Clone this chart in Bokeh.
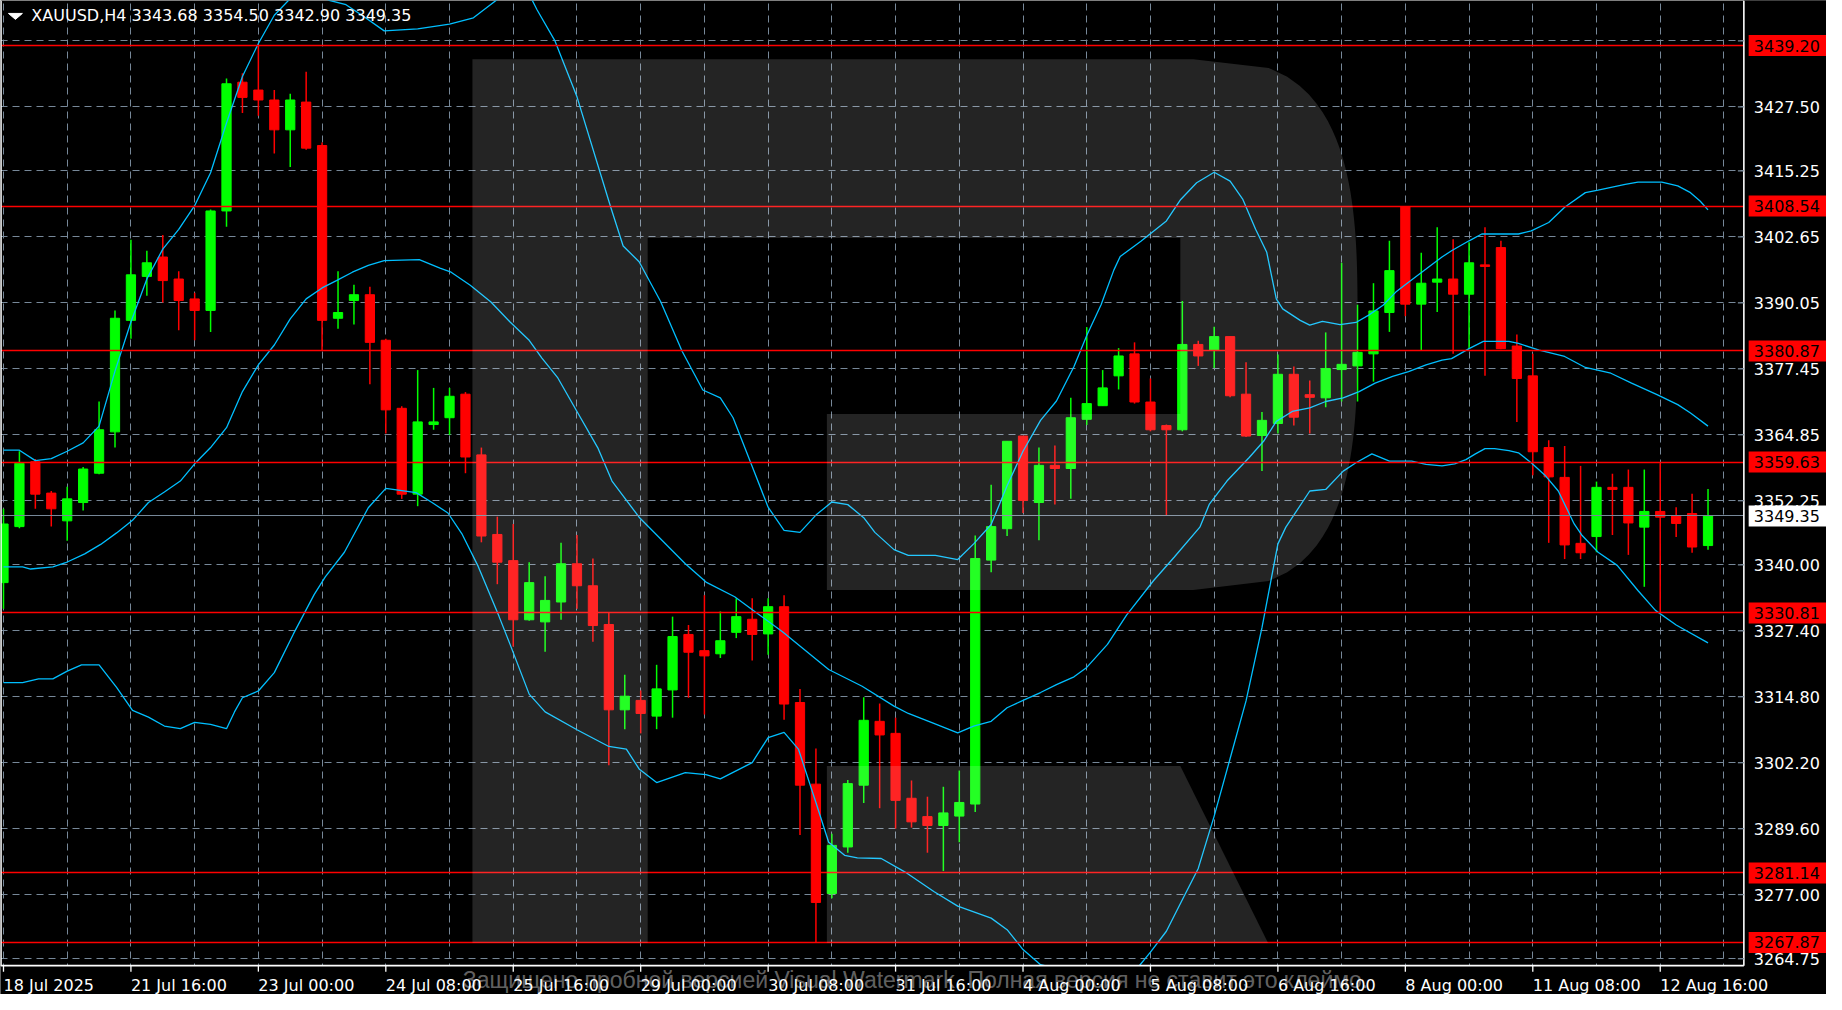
import numpy as np
from bokeh.plotting import figure
from bokeh.models import Range1d, FixedTicker, Grid, ColumnDataSource
from bokeh.core.properties import value
from bokeh.embed import file_html
from bokeh.resources import INLINE

# ------------------------------------------------------------------ data
symbol_title = "XAUUSD,H4  3343.68 3354.50 3342.90 3349.35"
watermark_text = "Защищено пробной версией Visual Watermark. Полная версия не ставит это клеймо."

x_tick_bars = [0, 8, 16, 24, 32, 40, 48, 56, 64, 72, 80, 88, 96, 104]
x_tick_labels = ["18 Jul 2025", "21 Jul 16:00", "23 Jul 00:00", "24 Jul 08:00", "25 Jul 16:00",
                 "29 Jul 00:00", "30 Jul 08:00", "31 Jul 16:00", "4 Aug 00:00", "5 Aug 08:00",
                 "6 Aug 16:00", "8 Aug 00:00", "11 Aug 08:00", "12 Aug 16:00"]

price_ticks = [3264.75, 3277.00, 3289.60, 3302.20, 3314.80, 3327.40, 3340.00, 3352.25,
               3364.85, 3377.45, 3390.05, 3402.65, 3415.25, 3427.50, 3440.10]
price_tick_labels = ["3264.75", "3277.00", "3289.60", "3302.20", "3314.80", "3327.40", "3340.00",
                     "3352.25", "3364.85", "3377.45", "3390.05", "3402.65", "3415.25", "3427.50", ""]

levels = [3439.20, 3408.54, 3380.87, 3359.63, 3330.81, 3281.14, 3267.87]
level_labels = ["3439.20", "3408.54", "3380.87", "3359.63", "3330.81", "3281.14", "3267.87"]
last_price = 3349.35
last_price_label = "3349.35"

opens = [3336.6, 3347.3, 3359.7, 3353.7, 3348.4, 3351.9, 3357.5, 3365.4, 3386.7, 3395.1,
         3398.8, 3394.6, 3390.8, 3388.6, 3407.6, 3432.2, 3430.7, 3428.8, 3423.1, 3428.4,
         3420.1, 3387.1, 3390.5, 3391.6, 3382.9, 3369.9, 3353.5, 3366.8, 3368.1, 3372.6,
         3361.0, 3345.8, 3340.8, 3329.5, 3329.1, 3332.9, 3340.2, 3336.0, 3328.6, 3312.3,
         3314.1, 3311.1, 3316.1, 3326.7, 3323.6, 3323.0, 3327.1, 3329.6, 3326.8, 3332.0,
         3313.7, 3298.1, 3277.2, 3286.1, 3297.9, 3310.1, 3307.8, 3295.4, 3291.9, 3290.2,
         3292.0, 3294.3, 3340.9, 3346.9, 3364.6, 3351.9, 3359.0, 3358.4, 3367.8, 3370.4,
         3376.1, 3380.3, 3371.1, 3366.6, 3365.8, 3382.1, 3381.0, 3383.6, 3372.6, 3364.7,
         3367.0, 3376.4, 3372.5, 3371.9, 3377.3, 3378.0, 3380.3, 3388.2, 3408.4, 3389.8,
         3394.0, 3394.6, 3391.7, 3397.3, 3400.6, 3381.8, 3376.1, 3362.4, 3356.7, 3344.1,
         3345.4, 3354.8, 3354.8, 3347.2, 3350.2, 3349.4, 3349.8, 3343.68]
highs = [3350.7, 3361.7, 3360.2, 3354.1, 3354.9, 3358.7, 3371.2, 3388.6, 3402.1, 3400.0,
         3403.0, 3396.1, 3392.0, 3407.9, 3432.9, 3433.9, 3439.2, 3430.7, 3430.0, 3434.2,
         3420.7, 3396.1, 3393.5, 3393.1, 3383.2, 3370.3, 3377.2, 3373.8, 3373.8, 3373.0,
         3362.4, 3349.2, 3347.8, 3340.5, 3337.8, 3344.2, 3345.7, 3341.2, 3330.9, 3319.0,
         3316.0, 3320.9, 3330.1, 3328.5, 3334.2, 3331.1, 3333.6, 3333.6, 3333.6, 3334.2,
         3316.3, 3304.9, 3288.6, 3298.9, 3314.7, 3313.5, 3310.8, 3298.8, 3295.7, 3297.6,
         3300.7, 3345.6, 3355.3, 3363.6, 3364.6, 3362.4, 3362.8, 3371.9, 3385.4, 3377.2,
         3381.4, 3382.5, 3375.6, 3366.8, 3390.4, 3382.8, 3385.5, 3383.6, 3378.7, 3369.2,
         3380.2, 3377.9, 3375.2, 3384.4, 3397.7, 3389.7, 3393.8, 3401.9, 3408.54, 3399.6,
         3404.5, 3402.2, 3401.6, 3404.5, 3401.9, 3384.0, 3380.3, 3363.8, 3362.7, 3358.9,
         3355.9, 3357.4, 3358.2, 3358.2, 3359.4, 3351.0, 3353.6, 3354.50]
lows = [3331.6, 3347.0, 3350.7, 3347.3, 3344.6, 3350.4, 3357.3, 3362.4, 3383.2, 3391.4,
        3390.1, 3384.8, 3382.9, 3384.5, 3404.6, 3426.3, 3425.8, 3418.6, 3416.0, 3419.3,
        3381.0, 3385.1, 3385.9, 3374.5, 3365.1, 3352.6, 3351.2, 3365.8, 3364.8, 3357.5,
        3344.3, 3336.3, 3324.4, 3329.3, 3323.4, 3329.5, 3331.6, 3325.3, 3301.7, 3308.6,
        3307.8, 3308.6, 3310.8, 3314.6, 3311.4, 3322.2, 3326.0, 3321.7, 3322.8, 3310.4,
        3288.4, 3267.87, 3276.3, 3285.0, 3294.5, 3293.5, 3289.6, 3289.8, 3285.0, 3281.5,
        3287.0, 3292.8, 3338.6, 3345.5, 3349.9, 3344.7, 3351.5, 3352.6, 3366.7, 3370.4,
        3373.5, 3370.8, 3365.5, 3349.4, 3365.5, 3378.0, 3377.6, 3372.0, 3364.4, 3357.9,
        3365.1, 3366.6, 3365.1, 3370.1, 3371.2, 3371.2, 3375.0, 3384.5, 3387.5, 3381.0,
        3388.3, 3380.3, 3381.2, 3376.1, 3381.2, 3367.3, 3357.1, 3344.2, 3341.1, 3341.1,
        3342.4, 3345.7, 3341.9, 3335.8, 3330.81, 3345.3, 3342.3, 3342.90]
closes = [3347.8, 3359.4, 3353.5, 3350.7, 3352.6, 3358.3, 3365.8, 3387.1, 3395.4, 3397.7,
          3394.3, 3390.5, 3388.6, 3407.6, 3431.9, 3429.3, 3428.8, 3423.1, 3428.8, 3419.6,
          3386.7, 3388.2, 3391.6, 3382.5, 3369.6, 3353.5, 3367.3, 3367.3, 3372.2, 3360.6,
          3345.5, 3340.5, 3329.5, 3336.6, 3333.2, 3340.2, 3336.0, 3328.4, 3312.3, 3314.9,
          3311.6, 3316.3, 3326.3, 3323.3, 3322.6, 3325.5, 3330.1, 3326.7, 3332.0, 3313.4,
          3297.9, 3275.5, 3286.4, 3298.2, 3310.3, 3307.5, 3295.0, 3290.9, 3290.2, 3292.6,
          3294.6, 3341.2, 3347.3, 3363.6, 3352.3, 3359.0, 3358.4, 3368.1, 3370.8, 3373.8,
          3379.9, 3371.1, 3365.8, 3365.8, 3382.1, 3379.9, 3383.6, 3372.3, 3364.6, 3367.6,
          3376.4, 3368.2, 3372.0, 3377.5, 3378.3, 3380.6, 3388.5, 3396.2, 3389.8, 3393.8,
          3394.6, 3391.7, 3397.7, 3397.0, 3381.3, 3375.6, 3361.6, 3356.8, 3343.8, 3342.3,
          3354.8, 3354.4, 3348.0, 3350.2, 3349.1, 3347.9, 3343.4, 3349.35]

# Bollinger bands (x = bar index)
upper_x = [0, 1, 2, 3, 4, 5, 6, 7, 8, 9, 10, 11, 12, 13, 14, 15, 16, 17, 18.2, 19.5, 20.5, 21.5, 22.5,
           23.9, 26, 28, 29.5, 31, 32, 33, 33.5, 34.6, 36, 38.1, 38.9, 39.9, 41.25, 42.6, 43.9, 45, 45.8,
           47, 48, 49, 50, 51, 52, 53, 54, 54.7, 55.9, 56.8, 58.5, 59.9, 60.9, 62, 63, 64, 65.1, 66.1,
           67.2, 68, 68.9, 69.7, 70.1, 71.4, 73, 73.9, 74.9, 76, 77, 77.8, 78.6, 79.3, 79.9, 80.3, 81.4,
           82, 82.8, 83.9, 84.9, 85.7, 86.6, 87.4, 88.2, 89.3, 90.3, 90.9, 92, 92.8, 95.1, 95.9, 97, 98,
           99.3, 100.1, 101.8, 102.6, 104.1, 105.1, 105.9, 106.5, 107]
upper_y = [3361.9, 3361.9, 3359.9, 3360.3, 3361.7, 3363.3, 3366.5, 3377.0, 3386.4, 3394.6, 3400.3,
           3404.1, 3408.6, 3414.9, 3424.4, 3433.3, 3439.6, 3445.0, 3448.8, 3449.0, 3447.8, 3447.0,
           3445.0, 3442.0, 3442.4, 3443.3, 3444.5, 3448.0, 3449.5, 3449.0, 3446.0, 3440.2, 3429.4,
           3408.5, 3400.9, 3397.9, 3390.3, 3380.8, 3373.4, 3371.9, 3368.1, 3358.8, 3351.0, 3346.6,
           3346.2, 3349.5, 3352.0, 3351.5, 3349.0, 3346.2, 3342.9, 3341.8, 3341.8, 3341.0, 3344.0,
           3347.7, 3355.1, 3361.7, 3367.6, 3371.3, 3377.9, 3383.8, 3389.7, 3396.3, 3398.9, 3401.8,
           3405.7, 3409.8, 3413.0, 3415.0, 3413.3, 3409.8, 3404.1, 3399.7, 3390.8, 3388.9, 3386.7,
           3385.8, 3386.5, 3385.9, 3386.3, 3387.7, 3389.6, 3392.1, 3394.0, 3396.5, 3398.8, 3400.0,
           3401.9, 3403.2, 3403.2, 3403.8, 3405.4, 3408.3, 3411.1, 3411.6, 3412.7, 3413.1, 3413.1,
           3412.4, 3411.1, 3409.5, 3407.8]
middle_x = [0, 1.2, 1.7, 3.1, 3.9, 5.1, 6.1, 7.1, 8.1, 9.1, 10.1, 11.1, 12, 13, 14, 15, 16, 17, 18, 19,
            20, 20.9, 21.9, 22.9, 23.9, 26.1, 27.4, 28.1, 29.3, 30.6, 31.8, 33, 33.8, 34.8, 36, 37.3,
            38.2, 39.9, 42.8, 44.1, 45.9, 47.2, 48.9, 51.8, 53.9, 55.9, 56.8, 58.4, 59.9, 60.9, 62, 63,
            64, 65.1, 66.1, 67.2, 68, 69.3, 70.5, 72.2, 73.5, 75.1, 75.7, 76.8, 78.2, 79.1, 79.9, 80.9,
            82, 83, 84.1, 85.1, 86.1, 87.2, 88.2, 89.3, 90.3, 90.9, 92, 92.9, 94.5, 95.1, 96.4, 98,
            99.3, 100.9, 102.2, 103.8, 105.1, 105.9, 107]
middle_y = [3339.6, 3339.6, 3339.2, 3339.6, 3340.4, 3342.1, 3343.9, 3346.1, 3348.5, 3351.9, 3353.9,
            3356.0, 3359.3, 3362.4, 3366.2, 3373.1, 3378.2, 3382.0, 3387.0, 3390.8, 3392.9, 3394.3,
            3395.9, 3397.2, 3398.1, 3398.3, 3396.7, 3395.9, 3393.4, 3390.2, 3386.4, 3382.9, 3379.5,
            3375.7, 3369.3, 3362.4, 3356.0, 3349.1, 3340.2, 3336.7, 3333.9, 3331.0, 3327.2, 3320.0,
            3316.8, 3313.0, 3311.6, 3309.7, 3307.9, 3309.2, 3310.1, 3312.7, 3314.1, 3315.6, 3317.1,
            3318.6, 3320.4, 3324.8, 3330.4, 3337.0, 3341.5, 3347.2, 3351.6, 3356.0, 3360.5, 3363.6,
            3367.4, 3369.3, 3370.0, 3371.2, 3371.9, 3373.1, 3374.7, 3376.0, 3376.9, 3378.2, 3379.1,
            3379.4, 3381.3, 3382.7, 3382.7, 3382.3, 3381.0, 3379.8, 3377.7, 3376.6, 3374.7, 3372.5,
            3370.6, 3369.0, 3366.5]
lower_x = [0, 1.2, 2.2, 3.1, 4, 4.9, 6, 7.1, 8.1, 9.1, 10.1, 11.1, 12, 13, 14, 14.5, 15, 16, 17, 18.2,
           19.5, 20.2, 21.4, 22.9, 24, 25.9, 26.9, 27.9, 28.8, 29.8, 31.1, 31.8, 33, 34, 36, 38, 39.1,
           39.9, 41, 42.8, 44.1, 45, 47, 48, 49, 49.9, 51, 51.8, 52.8, 53.6, 55.1, 56.6, 58.4, 59.9, 62,
           63, 64, 65.1, 66.1, 67.2, 68, 69.3, 70.5, 71.3, 72, 73, 74, 75, 76, 77, 78, 79, 80, 80.5, 82,
           83, 84.1, 84.9, 85.9, 87, 88.4, 89.3, 90.3, 91.1, 91.8, 92.4, 93, 93.6, 94.5, 95.1, 95.9,
           96.8, 97.6, 98.6, 99.1, 100.1, 101.3, 102.6, 103.7, 105, 107]
lower_y = [3317.5, 3317.5, 3318.2, 3318.2, 3319.7, 3320.9, 3320.9, 3316.6, 3312.2, 3310.9, 3309.2,
           3308.7, 3309.9, 3309.5, 3308.7, 3311.9, 3314.6, 3315.9, 3319.4, 3326.8, 3334.3, 3337.7,
           3342.4, 3350.9, 3354.6, 3353.8, 3351.9, 3349.9, 3345.8, 3339.7, 3330.2, 3324.8, 3315.3,
           3311.9, 3308.5, 3305.3, 3304.8, 3301.0, 3298.4, 3300.3, 3299.9, 3299.1, 3302.2, 3307.0,
           3308.0, 3304.8, 3294.6, 3287.0, 3284.5, 3284.0, 3283.9, 3281.3, 3277.6, 3274.8, 3272.5,
           3270.3, 3266.5, 3263.6, 3262.9, 3259.3, 3257.0, 3256.0, 3261.0, 3263.4, 3266.0, 3270.0,
           3276.0, 3282.0, 3292.0, 3303.0, 3314.0, 3328.0, 3344.0, 3347.2, 3354.1, 3354.4, 3357.9,
           3359.5, 3361.2, 3359.8, 3359.8, 3359.2, 3358.9, 3359.3, 3360.1, 3361.2, 3362.2, 3362.2,
           3361.8, 3361.4, 3359.5, 3357.0, 3354.1, 3347.8, 3345.6, 3342.4, 3339.9, 3335.1, 3331.3,
           3328.5, 3325.1]

# ------------------------------------------------------------------ layout / style constants
BULL, BEAR = "#00ff00", "#ff0000"
BAND = "#00bfff"
GRID = "#778899"
FONT = value("DejaVu Sans")

# geometry of the reference in its own pixels (chart area 2..1753 x 0..971)
PX_PER_BAR = 16.0
BAR0_X = 5.0
PX_PER_USD = 5.2661
REF_PRICE, REF_Y = 3264.75, 964.0


def bar_at(px):
    return (px - BAR0_X) / PX_PER_BAR


def price_at(py):
    return REF_PRICE + (REF_Y - py) / PX_PER_USD


CHART_L, CHART_R, CHART_B = 2, 1753, 971
CANVAS_R, CANVAS_B = 1836, 1000

bars = list(range(len(opens)))
src = ColumnDataSource(dict(
    x=bars, high=highs, low=lows,
    top=[max(o, c) for o, c in zip(opens, closes)],
    bottom=[min(o, c) for o, c in zip(opens, closes)],
    color=[BULL if c > o else BEAR for o, c in zip(opens, closes)],
))

p = figure(width=1826, height=994,
           x_range=Range1d(bar_at(CHART_L), bar_at(CANVAS_R)),
           y_range=Range1d(price_at(CANVAS_B), price_at(0)),
           x_axis_location=None, y_axis_location=None,
           output_backend="svg", toolbar_location=None,
           background_fill_color="black", border_fill_color="black", outline_line_color=None,
           min_border=0, min_border_left=0, min_border_right=0, min_border_top=0, min_border_bottom=0)
# drop the default grids; custom dashed grids follow
p.center = [c for c in p.center if not isinstance(c, Grid)]
p.extra_x_ranges = {"px": Range1d(CHART_L, CANVAS_R)}
p.extra_y_ranges = {"py": Range1d(CANVAS_B, 0)}

p.add_layout(Grid(dimension=0, ticker=FixedTicker(ticks=list(range(0, 112, 4))),
                  grid_line_color=GRID, grid_line_dash="7 5", grid_line_width=1))
p.add_layout(Grid(dimension=1, ticker=FixedTicker(ticks=price_ticks),
                  grid_line_color=GRID, grid_line_dash="7 5", grid_line_width=1))

# candles
p.segment(x0="x", y0="low", x1="x", y1="high", line_color="color", line_width=1.5, source=src)
p.vbar(x="x", width=0.58, top="top", bottom="bottom", fill_color="color",
       line_color="color", line_width=1, source=src)

# Bollinger bands
for bx, by in ((upper_x, upper_y), (middle_x, middle_y), (lower_x, lower_y)):
    p.line(bx, by, line_color=BAND, line_width=1.3)

# horizontal levels and last price line
p.hspan(y=levels, line_color="#ff0000", line_width=1.5)
p.hspan(y=[last_price], line_color=GRID, line_width=1.2)

# watermark "R" (shape in reference pixels)
cx, cy, rx, ry = 1200, 326, 165, 267
t = np.linspace(-1, 1, 61)
arc_x = list(cx + rx * (1 - np.abs(t) ** 3) ** (1 / 3))
arc_y = list(cy + ry * t)
wm_x = [476, 1200] + arc_x + [1200, 832, 832, 1187, 1187, 652, 652, 476]
wm_y = [59, 59] + arc_y + [593, 593, 416, 416, 239, 239, 948, 948]
leg_x = [832, 1187, 1275, 832]
leg_y = [770, 770, 948, 948]
p.patches(xs=[wm_x, leg_x], ys=[wm_y, leg_y], fill_color="white", fill_alpha=0.14,
          line_color=None, x_range_name="px", y_range_name="py")

# scale panels (right and bottom), covering anything beyond the chart area
p.quad(left=[CHART_R, CHART_L], right=[CANVAS_R + 10, CANVAS_R + 10],
       bottom=[CANVAS_B + 10, CANVAS_B + 10], top=[-10, CHART_B],
       fill_color="black", line_color=None, x_range_name="px", y_range_name="py")

# frame lines
p.segment(x0=[CHART_L + 0.5, CHART_L, CHART_R], y0=[0, CHART_B, 0],
          x1=[CHART_L + 0.5, CHART_R, CHART_R], y1=[CHART_B, CHART_B, CHART_B],
          line_color="white", line_width=1.6, x_range_name="px", y_range_name="py")

# bottom time scale: ticks and labels
p.segment(x0=x_tick_bars, x1=x_tick_bars, y0=[CHART_B] * len(x_tick_bars),
          y1=[CHART_B + 6] * len(x_tick_bars), line_color="white", line_width=1.3,
          y_range_name="py")
p.text(x=x_tick_bars, y=[CHART_B + 10] * len(x_tick_bars), text=x_tick_labels,
       text_font=FONT, text_font_size="16px", text_color="white",
       text_align="left", text_baseline="top", y_range_name="py")

# right price scale: ticks and labels
p.segment(x0=[CHART_R - 6] * len(price_ticks), x1=[CHART_R] * len(price_ticks),
          y0=price_ticks, y1=price_ticks, line_color=GRID, line_width=1.3, x_range_name="px")
p.text(x=[CHART_R + 10] * len(price_ticks), y=price_ticks, text=price_tick_labels,
       text_font=FONT, text_font_size="16px", text_color="white",
       text_align="left", text_baseline="middle", x_range_name="px")

# price tags
TAG_X = (1758 + 1836) / 2
p.rect(x=[TAG_X] * len(levels), y=levels, width=78, height=21,
       width_units="screen", height_units="screen",
       fill_color="#ff0000", line_color=None, x_range_name="px")
p.text(x=[CHART_R + 10] * len(levels), y=levels, text=level_labels,
       text_font=FONT, text_font_size="16px", text_color="black",
       text_align="left", text_baseline="middle", x_range_name="px")
p.rect(x=[TAG_X], y=[last_price], width=78, height=21,
       width_units="screen", height_units="screen",
       fill_color="white", line_color=None, x_range_name="px")
p.text(x=[CHART_R + 10], y=[last_price], text=[last_price_label],
       text_font=FONT, text_font_size="16px", text_color="black",
       text_align="left", text_baseline="middle", x_range_name="px")

# title
p.patch(x=[10, 24, 17], y=[13, 13, 19], fill_color="white", line_color="white",
        x_range_name="px", y_range_name="py")
p.text(x=[33], y=[15.5], text=[symbol_title], text_font=FONT, text_font_size="16px",
       text_color="white", text_align="left", text_baseline="middle",
       x_range_name="px", y_range_name="py")

# bottom watermark text
p.text(x=[921], y=[985], text=[watermark_text], text_font=value("Liberation Sans"),
       text_font_size="23px", text_color="white", text_alpha=0.4,
       text_align="center", text_baseline="middle", x_range_name="px", y_range_name="py")

open("out.html", "w").write(file_html(p, INLINE))
